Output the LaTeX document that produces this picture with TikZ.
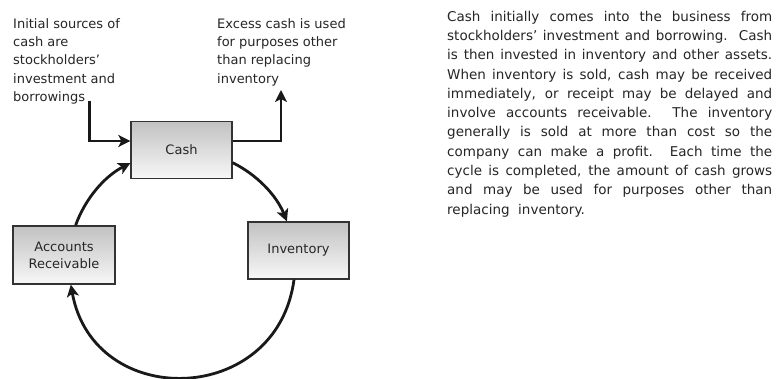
\documentclass[tikz,border=0pt]{standalone}
\usepackage{fontspec}
\setmainfont{DejaVu Sans}
\usetikzlibrary{arrows.meta}
\begin{document}
\begin{tikzpicture}[x=1pt,y=1pt,
  box/.style={draw=black!80, line width=1.3pt, top color=black!24, bottom color=black!3,
    minimum width=101pt, minimum height=57pt, inner sep=0pt,
    font=\fontsize{13}{17}\selectfont, text=black!85, align=center},
  lbl/.style={anchor=north west, inner sep=0pt, align=left,
    font=\fontsize{13}{18.4}\selectfont, text=black!85},
  flow/.style={line width=2.8pt, draw=black!90,
    -{Stealth[length=12pt,width=12pt,inset=3pt]}},
]
\useasboundingbox (0,0) rectangle (776,-379);
\fill[white] (0,0) rectangle (776,-379);

\node[box] (cash) at (181.5,-150) {Cash};
\node[box] (inv) at (298.5,-250.5) {Inventory};
\node[box, minimum width=102pt, minimum height=58pt] (ar) at (64,-255) {Accounts\\Receivable};

\node[lbl] (src) at (13,-18) {Initial sources of\\cash are\\stockholders’\\investment and\\borrowings};
\node[lbl] (use) at (217,-18) {Excess cash is used\\for purposes other\\than replacing\\inventory};

\coordinate (srcend) at (89.5,-101);
\coordinate (useend) at (281,-90);
\draw[flow] (srcend) |- ([yshift=9pt]cash.west);
\draw[flow] ([yshift=9pt]cash.east) -| (useend);

\draw[flow] ([yshift=-12.7pt]cash.east) to[out=-26.3, in=111.8, looseness=0.88] ([xshift=-11.6pt]inv.north);
\draw[flow] ([xshift=-4.5pt]inv.south) to[out=-97.6, in=-79.8, looseness=1.47] ([xshift=6.8pt]ar.south);
\draw[flow] ([xshift=11.6pt]ar.north) to[out=70.3, in=206.8, looseness=0.88] ([yshift=-13.2pt]cash.west);

\node[anchor=north west, inner sep=0pt, align=left, font=\fontsize{13.5}{19.3}\selectfont, text=black!85] (para) at (447,-10.7) {%
\makebox[325pt][s]{Cash initially comes into the business from}\\
\makebox[325pt][s]{stockholders’ investment and borrowing.\ \ Cash}\\
\makebox[325pt][s]{is then invested in inventory and other assets.}\\
\makebox[325pt][s]{When inventory is sold, cash may be received}\\
\makebox[325pt][s]{immediately, or receipt may be delayed and}\\
\makebox[325pt][s]{involve accounts receivable.\ \ The inventory}\\
\makebox[325pt][s]{generally is sold at more than cost so the}\\
\makebox[325pt][s]{company can make a profit.\ \ Each time the}\\
\makebox[325pt][s]{cycle is completed, the amount of cash grows}\\
\makebox[325pt][s]{and may be used for purposes other than}\\
replacing\ \ inventory.};
\end{tikzpicture}
\end{document}
